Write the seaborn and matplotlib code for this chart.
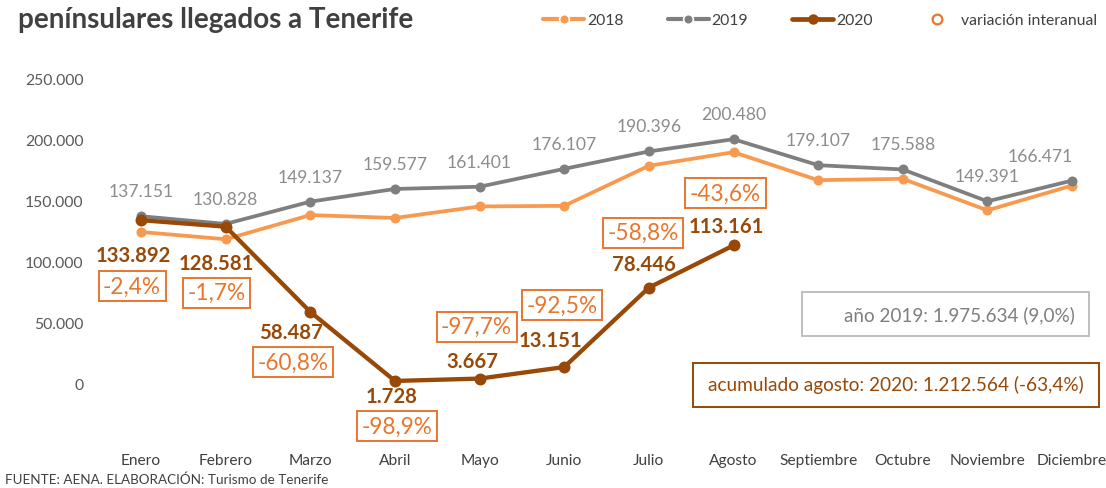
import matplotlib
matplotlib.use("Agg")
import matplotlib.pyplot as plt
from matplotlib.lines import Line2D
from matplotlib.patches import Rectangle
import seaborn as sns
import pandas as pd

# ---------------- data ----------------
months = ["Enero", "Febrero", "Marzo", "Abril", "Mayo", "Junio", "Julio",
          "Agosto", "Septiembre", "Octubre", "Noviembre", "Diciembre"]
v2018 = [124200, 118200, 138100, 135700, 145200, 145700, 178600, 189800,
         166800, 167900, 142000, 162400]
v2019 = [137151, 130828, 149137, 159577, 161401, 176107, 190396, 200480,
         179107, 175588, 149391, 166471]
v2020 = [133892, 128581, 58487, 1728, 3667, 13151, 78446, 113161]
var_2020 = [-2.4, -1.7, -60.8, -98.9, -97.7, -92.5, -58.8, -43.6]
yticks = [0, 50000, 100000, 150000, 200000, 250000]
title = "penínsulares llegados a Tenerife"
legend_labels = ["2018", "2019", "2020", "variación interanual"]
box_2019 = "año 2019: 1.975.634 (9,0%)"
box_2020 = "acumulado agosto: 2020: 1.212.564 (-63,4%)"
source = "FUENTE: AENA. ELABORACIÓN: Turismo de Tenerife"

# ---------------- style ----------------
C18 = "#F79A4F"
C19 = "#7F7F7F"
C20 = "#984807"
CVAR = "#E8762D"
FONT = ["Lato", "DejaVu Sans"]

sns.set_theme(style="white")
plt.rcParams["font.family"] = FONT


def fmt(v):
    return f"{v:,}".replace(",", ".")


def fmt_pct(v):
    return f"{v:.1f}%".replace(".", ",")


W, H = 1106, 489
fig = plt.figure(figsize=(W / 100, H / 100), dpi=100)
ax = fig.add_axes([100 / W, 1 - 440 / H, 1000 / W, 375 / H])

df = pd.DataFrame({
    "mes": list(range(12)) * 2 + list(range(len(v2020))),
    "valor": v2018 + v2019 + v2020,
    "año": ["2018"] * 12 + ["2019"] * 12 + ["2020"] * len(v2020),
})

styles = {"2018": (C18, 2.7, 7.2, 2), "2019": (C19, 2.7, 7.2, 3), "2020": (C20, 3.1, 8.6, 4)}
for yr, (col, lw, ms, z) in styles.items():
    sub = df[df["año"] == yr]
    sns.lineplot(data=sub, x="mes", y="valor", ax=ax, color=col, lw=lw,
                 marker="o", markersize=ms, markeredgewidth=0, zorder=z,
                 legend=False)

PX = 0.72  # points per pixel

# 2019 labels
for i, v in enumerate(v2019):
    dx = -32 if i == 11 else 0
    ax.annotate(fmt(v), (i, v), xytext=(dx * PX, 25 * PX), textcoords="offset points",
                ha="center", va="center", fontsize=12.6, color="#8C8C8C", zorder=6)

# 2020 labels and variations
lab_off = [(-8, -35), (-9, -36), (-19, -20), (-3, -15), (-7, 18), (-14, 27), (-5, 24), (-7, 19)]
var_off = [(-9, -66), (-9, -66), (-17, -50), (2, -45), (-3, 52), (-2, 62), (-6, 55), (-8, 52)]
for i, v in enumerate(v2020):
    dx, dy = lab_off[i]
    ax.annotate(fmt(v), (i, v), xytext=(dx * PX, dy * PX), textcoords="offset points",
                ha="center", va="center", fontsize=14.6, fontweight="bold", color=C20, zorder=6)
    dx, dy = var_off[i]
    ax.annotate(fmt_pct(var_2020[i]), (i, v), xytext=(dx * PX, dy * PX),
                textcoords="offset points", ha="center", va="center", fontsize=16.3,
                color=CVAR, zorder=7,
                bbox=dict(boxstyle="square,pad=0.2", fc="white", ec=CVAR, lw=1.4))

ax.set_xlim(-0.485, 11.33)
ax.set_ylim(-46000, 262300)
ax.set_xticks(range(12))
ax.set_xticklabels(months)
ax.set_yticks(yticks)
ax.set_yticklabels([fmt(t) for t in yticks])
ax.tick_params(axis="x", length=0, pad=10, labelsize=11.2, labelcolor="#404040")
ax.tick_params(axis="y", length=0, pad=12, labelsize=11.3, labelcolor="#595959")
ax.set_xlabel("")
ax.set_ylabel("")
for s in ax.spines.values():
    s.set_visible(False)
ax.grid(False)

# title
fig.text(18 / W, 1 - 20 / H, title, ha="left", va="center", fontsize=20,
         fontweight="bold", color="#404040")

# legend
handles = [
    Line2D([], [], color=C18, lw=3, marker="o", ms=7, mfc=C18, mec="white", mew=1.2),
    Line2D([], [], color=C19, lw=3, marker="o", ms=7, mfc=C19, mec="white", mew=1.2),
    Line2D([], [], color=C20, lw=3.4, marker="o", ms=7.5, mew=0),
    Line2D([], [], color="none", marker="o", ms=7, mfc="white", mec=CVAR, mew=1.6),
]
fig.legend(handles, legend_labels, loc="center", bbox_to_anchor=(820 / W, 1 - 21 / H),
           ncol=4, frameon=False, fontsize=11.3, handlelength=2.6, handletextpad=0.2,
           columnspacing=2.8, labelcolor="#404040")

# summary boxes
fig.add_artist(Rectangle((802 / W, 1 - 337 / H), 287 / W, 44 / H, transform=fig.transFigure,
                         fill=True, fc="white", ec="#BFBFBF", lw=1.4))
fig.text(1075 / W, 1 - 315 / H, box_2019, ha="right", va="center", fontsize=13.6,
         color="#7F7F7F")
fig.add_artist(Rectangle((693 / W, 1 - 408 / H), 406 / W, 44 / H, transform=fig.transFigure,
                         fill=True, fc="white", ec=C20, lw=1.4))
fig.text(896 / W, 1 - 385 / H, box_2020, ha="center", va="center", fontsize=13.7,
         color=C20)

# source
fig.text(5 / W, 1 - 480 / H, source, ha="left", va="center", fontsize=9.7, color="#404040")

fig.savefig("out.png", dpi=100)
